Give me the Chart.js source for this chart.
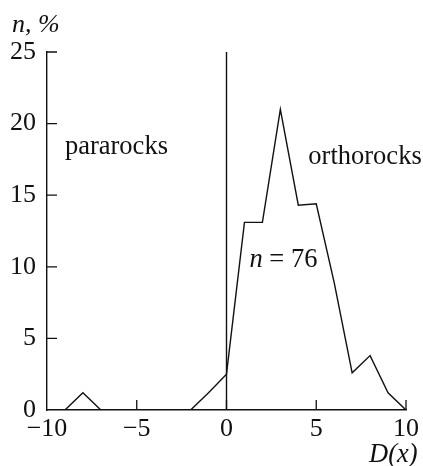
<!DOCTYPE html>
<html>
<head>
<meta charset="utf-8">
<script src="https://cdn.jsdelivr.net/npm/chart.js@4"></script>
<style>
  html, body { margin: 0; padding: 0; background: #fff; }
  #wrap { position: relative; width: 423px; height: 466px; }
</style>
</head>
<body>
<div id="wrap"><canvas id="chart"></canvas></div>
<script>
// ─── DATA ────────────────────────────────────────────────
const dValues = [-9, -8, -7, -6, -5, -4, -3, -2, -1, 0, 1, 2, 3, 4, 5, 6, 7, 8, 9, 10];
const nPercent = [0, 1.2, 0, 0, 0, 0, 0, 0, 1.2, 2.5, 13.1, 13.1, 21, 14.3, 14.4, 8.9, 2.6, 3.8, 1.2, 0];
const dividerX = [0, 0];
const dividerY = [0, 25];
const xTicks = [-10, -5, 0, 5, 10];
const yTicks = [0, 5, 10, 15, 20, 25];

const SERIF = '"Liberation Serif", "Times New Roman", serif';
const INK = '#111';

const fmt = v => v < 0 ? '\u2212' + Math.abs(v) : String(v);

// inward tick marks + text labels
const decorations = {
    id: 'decorations',
    afterDraw(chart) {
        const { ctx, scales: { x, y } } = chart;
        ctx.save();
        ctx.strokeStyle = INK;
        ctx.lineWidth = 1.3;
        ctx.beginPath();
        yTicks.filter(v => v > 0).forEach(v => {
            const py = y.getPixelForValue(v);
            ctx.moveTo(x.left, py);
            ctx.lineTo(x.left + 10, py);
        });
        xTicks.filter(v => v > -10).forEach(v => {
            const px = x.getPixelForValue(v);
            ctx.moveTo(px, y.bottom);
            ctx.lineTo(px, y.bottom - 10);
        });
        ctx.stroke();

        ctx.fillStyle = INK;
        ctx.textBaseline = 'alphabetic';
        ctx.textAlign = 'left';
        ctx.font = `26.5px ${SERIF}`;
        ctx.fillText('pararocks', x.getPixelForValue(-9), y.getPixelForValue(17.9));
        ctx.fillText('orthorocks', x.getPixelForValue(4.56), y.getPixelForValue(17.2));

        // n = 76
        let px = x.getPixelForValue(1.28);
        const py = y.getPixelForValue(10);
        ctx.font = `italic 26.5px ${SERIF}`;
        ctx.fillText('n', px, py);
        px += ctx.measureText('n').width;
        ctx.font = `26.5px ${SERIF}`;
        ctx.fillText(' = 76', px, py);

        // axis titles
        ctx.font = `italic 26px ${SERIF}`;
        ctx.fillText('n, %', 12, 32);
        ctx.font = `italic 26.5px ${SERIF}`;
        ctx.fillText('D(x)', 369, 462);
        ctx.restore();
    }
};

new Chart(document.getElementById('chart'), {
    type: 'scatter',
    data: {
        datasets: [
            {
                data: dValues.map((d, i) => ({ x: d, y: nPercent[i] })),
                showLine: true,
                borderColor: INK,
                borderWidth: 1.4,
                pointRadius: 0,
                tension: 0
            },
            {
                data: dividerX.map((d, i) => ({ x: d, y: dividerY[i] })),
                showLine: true,
                borderColor: INK,
                borderWidth: 1.4,
                pointRadius: 0
            }
        ]
    },
    options: {
        responsive: true,
        maintainAspectRatio: false,
        animation: false,
        layout: { padding: { top: 52, right: 17, left: 0, bottom: 0 } },
        plugins: { legend: { display: false }, tooltip: { enabled: false } },
        scales: {
            x: {
                type: 'linear',
                min: -10,
                max: 10,
                afterBuildTicks: s => { s.ticks = xTicks.map(v => ({ value: v })); },
                afterFit: s => { s.height = 56; },
                grid: { display: false, drawTicks: false },
                border: { display: true, color: INK, width: 1.4 },
                ticks: {
                    color: INK,
                    padding: 4,
                    maxRotation: 0,
                    font: { family: SERIF, size: 26 },
                    callback: v => fmt(v)
                }
            },
            y: {
                type: 'linear',
                min: 0,
                max: 25,
                afterBuildTicks: s => { s.ticks = yTicks.map(v => ({ value: v })); },
                afterFit: s => { s.width = 47; },
                grid: { display: false, drawTicks: false },
                border: { display: true, color: INK, width: 1.4 },
                ticks: {
                    color: INK,
                    padding: 11,
                    font: { family: SERIF, size: 26 },
                    callback: v => fmt(v)
                }
            }
        }
    },
    plugins: [decorations]
});
</script>
</body>
</html>
